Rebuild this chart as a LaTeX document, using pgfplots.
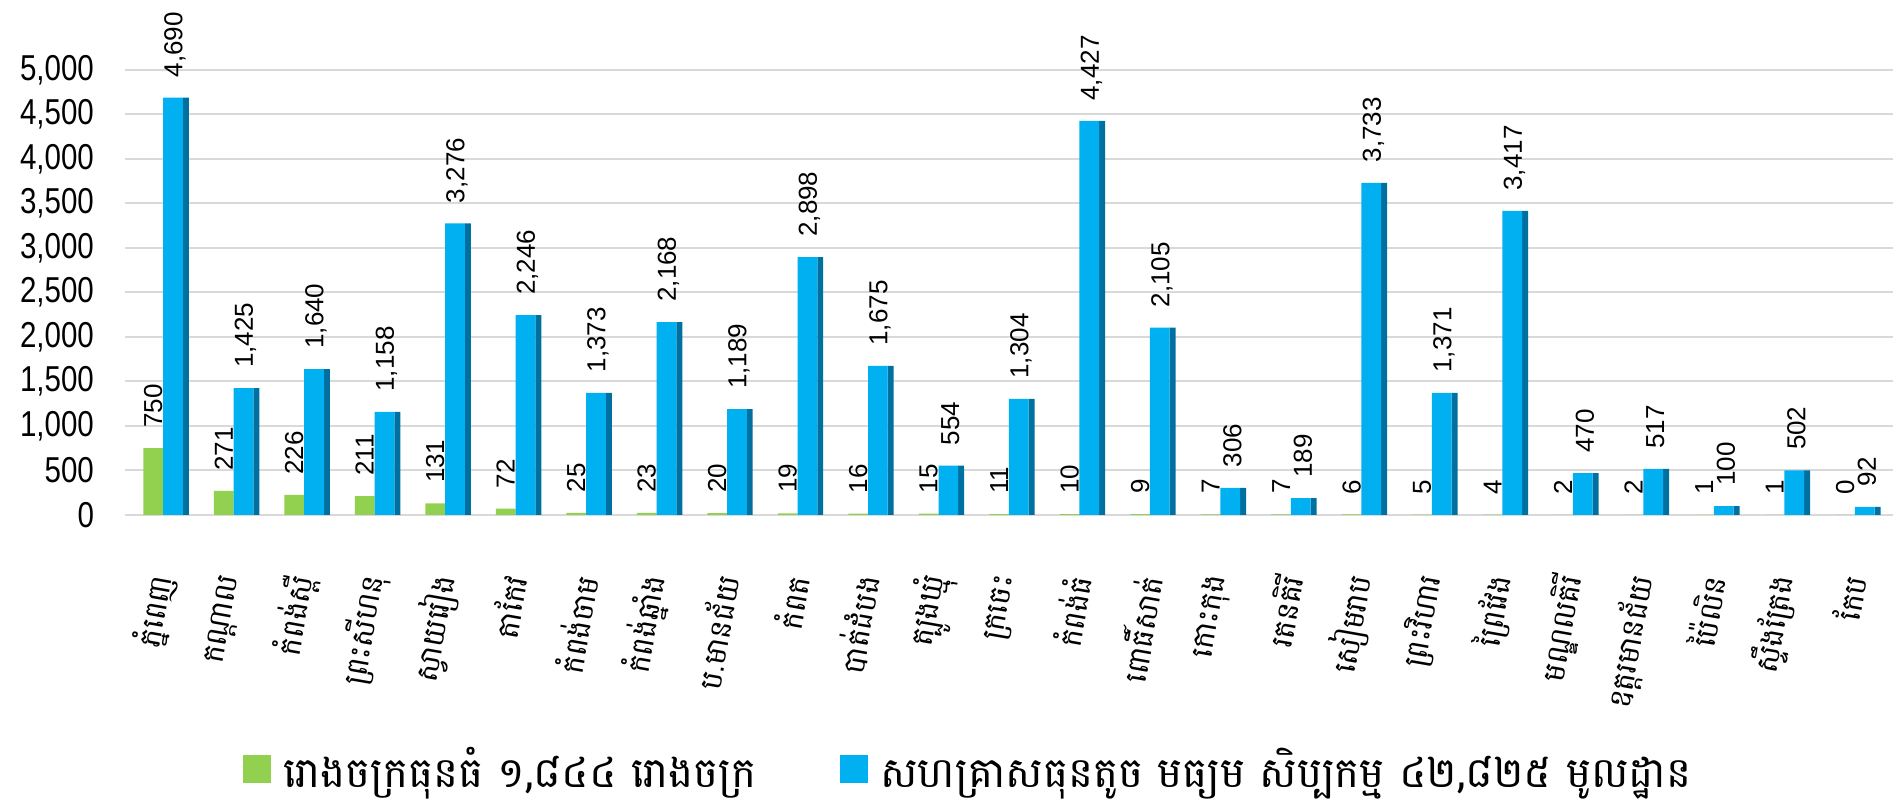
\documentclass[border=0pt]{standalone}
\usepackage{fontspec}
\usepackage{pgfplots}
\usepackage{pgfplotstable}
\pgfplotsset{compat=1.18}
\setmainfont{Liberation Sans}
\newfontfamily\narrow[FakeStretch=0.82]{Liberation Sans}
\newfontfamily\khmer[Script=Khmer]{Battambang}
\definecolor{cgreen}{RGB}{146,208,80}
\definecolor{cblue}{RGB}{0,176,240}
\definecolor{cbside}{RGB}{0,112,160}
\pgfplotstableread{
x g b
0 750 4690
1 271 1425
2 226 1640
3 211 1158
4 131 3276
5 72 2246
6 25 1373
7 23 2168
8 20 1189
9 19 2898
10 16 1675
11 15 554
12 11 1304
13 10 4427
14 9 2105
15 7 306
16 7 189
17 6 3733
18 5 1371
19 4 3417
20 2 470
21 2 517
22 1 100
23 1 502
24 0 92
}\data
\newcommand\dl{\fontsize{13}{15}\selectfont\pgfmathprintnumber[1000 sep={,},assume math mode=true]{\pgfplotspointmeta}}
\begin{document}
\begin{tikzpicture}
\begin{axis}[
  scale only axis, width=884pt, height=222.5pt,
  xmin=-0.54, xmax=24.54, ymin=0, ymax=5000,
  clip=false,
  axis line style={draw=none},
  major tick length=0pt,
  ytick={0,500,...,5000},
  scaled y ticks=false,
  ymajorgrids, grid style={draw=black!15, line width=1pt},
  /pgf/number format/1000 sep={,},
  /pgf/number format/assume math mode=true,
  yticklabel style={font=\narrow\fontsize{18}{20}\selectfont, xshift=-12pt},
  xtick={0,...,24},
  xticklabels={ភ្នំពេញ, កណ្ដាល, កំពង់ស្ពឺ, ព្រះសីហនុ, ស្វាយរៀង, តាកែវ, កំពង់ចាម, កំពង់ឆ្នាំង, ប.មានជ័យ, កំពត, បាត់ដំបង, ត្បូងឃ្មុំ, ក្រចេះ, កំពង់ធំ, ពោធិ៍សាត់, កោះកុង, រតនគិរី, សៀមរាប, ព្រះវិហារ, ព្រៃវែង, មណ្ឌលគិរី, ឧត្ដរមានជ័យ, ប៉ៃលិន, ស្ទឹងត្រែង, កែប},
  xticklabel style={font=\khmer\fontsize{15}{18}\selectfont, yshift=-27pt, rotate=80, anchor=east},
  legend style={at={(0.4775,0)}, anchor=center, yshift=-127pt, draw=none, fill=none,
    legend columns=2, font=\khmer\fontsize{21}{25}\selectfont,
    /tikz/every even column/.append style={column sep=40pt}},
  legend cell align=left,
]
\addplot[ybar, bar width=0.28, bar shift=0pt, fill=cgreen, draw=none,
  nodes near coords=\dl,
  nodes near coords style={rotate=90, anchor=west, inner xsep=10pt, text=black},
  legend image code/.code={\fill[cgreen] (0pt,-7pt) rectangle (14pt,7pt); \path (18pt,0pt);}]
  table[x expr=\thisrow{x}-0.14, y=g]{\data};
\addlegendentry{រោងចក្រធុនធំ ១,៨៤៤ រោងចក្រ}
\addplot[ybar, bar width=0.085, bar shift=0pt, fill=cbside, draw=none, forget plot]
  table[x expr=\thisrow{x}+0.3225, y=b]{\data};
\addplot[ybar, bar width=0.28, bar shift=0pt, fill=cblue, draw=none,
  nodes near coords=\dl,
  nodes near coords style={xshift=1pt, rotate=90, anchor=west, inner xsep=10pt, text=black},
  legend image code/.code={\fill[cblue] (0pt,-7pt) rectangle (14pt,7pt); \path (18pt,0pt);}]
  table[x expr=\thisrow{x}+0.14, y=b]{\data};
\addlegendentry{សហគ្រាសធុនតូច មធ្យម សិប្បកម្ម ៤២,៨២៥ មូលដ្ឋាន}
\coordinate (TL) at (axis description cs:-0.0707,1.1573);
\coordinate (BR) at (axis description cs:1.0,-0.636);
\end{axis}
\pgfresetboundingbox
\useasboundingbox (TL) rectangle (BR);
\end{tikzpicture}
\end{document}
